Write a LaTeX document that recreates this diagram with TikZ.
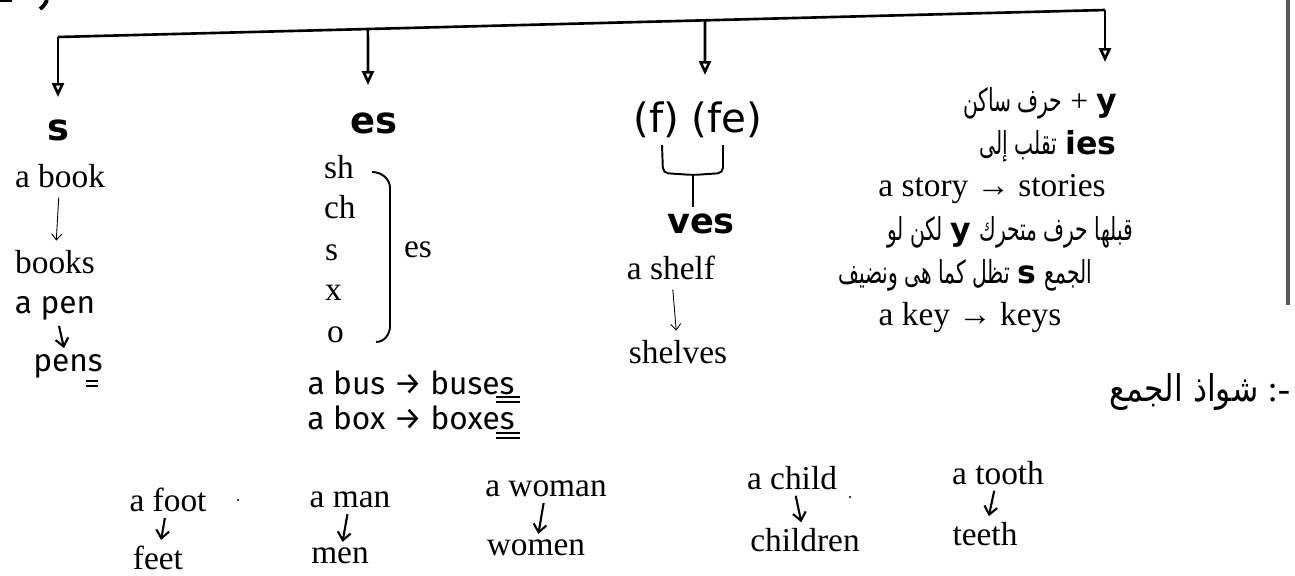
\documentclass[tikz,border=0pt]{standalone}
\usepackage{fontspec}
\setmainfont{Liberation Serif}
\newfontfamily\headfont{DejaVu Sans}
\newfontfamily\arabicfont[Script=Arabic, FakeStretch=0.64]{DejaVu Sans}
\newfontfamily\arabicwide[Script=Arabic, FakeStretch=0.85]{DejaVu Sans}
\newfontfamily\handfont{Fira Sans}
\TeXXeTstate=1
\usetikzlibrary{arrows.meta,positioning,calc}
\newcommand{\artxt}[1]{{\arabicfont\beginR #1\endR}}
\newcommand{\boldlat}[1]{{\headfont\bfseries\fontsize{18}{21}\selectfont #1}}
\tikzset{
  printed/.style={font=\fontsize{19}{22}\selectfont, inner sep=1pt},
  heading/.style={font=\headfont\bfseries\fontsize{21}{24}\selectfont, inner sep=1pt},
  headreg/.style={font=\headfont\fontsize{23}{26}\selectfont, inner sep=1pt},
  arline/.style={font=\fontsize{18}{21}\selectfont, inner sep=1pt},
  hand/.style={font=\handfont\fontsize{18}{21}\selectfont, inner sep=1pt},
  busarrow/.style={line width=1.5pt, -{Triangle[open, length=2.8mm, width=2.4mm]}},
  thinarrow/.style={line width=0.5pt, -{Straight Barb[length=1.2mm, width=2mm]}, shorten <=1.5mm, shorten >=1.5mm},
  handarrow/.style={line width=1.2pt, -{Straight Barb[length=1.6mm, width=2.6mm]}, shorten <=0.8mm, shorten >=0.8mm},
  bracket/.style={line width=1.1pt},
}
\begin{document}
\begin{tikzpicture}[x=0.02cm, y=-0.02cm]
\useasboundingbox (0,0) rectangle (1295,575);

% scan edge and cut-off fragment
\draw[line width=2.5pt, black!65] (1288,0) -- (1288,305);
\draw[line width=2.2pt] (40,9) to[bend right=15] (47,0);
\draw[line width=1.4pt] (0,1) -- (12,1);

% top bus
\coordinate (b0) at (58,37);
\coordinate (b3) at (1105,10);
\coordinate (b1) at ($(b0)!0.296!(b3)$);
\coordinate (b2) at ($(b0)!0.618!(b3)$);
\coordinate (t0) at (58,97);
\coordinate (t1) at (368,85);
\coordinate (t2) at (705,75);
\coordinate (t3) at (1105,62);
\draw[busarrow] (b0) -- (t0);
\draw[line width=1.5pt] (b0) -- (b3);
\draw[busarrow] (b1) -- (t1);
\draw[busarrow] (b2) -- (t2);
\draw[busarrow] (b3) -- (t3);

% column 1
\node[heading] (hs) at (58,130) {s};
\node[printed] (book) at (60,176) {a book};
\node[printed] (books) at (55,262) {books};
\draw[thinarrow] (book) -- (books);
\node[hand] (pen) at (55,308) {a pen};
\node[hand] (pens) at (68,366) {pens};
\draw[handarrow] (pen) -- (pens);
\draw[line width=1pt] (86,381) -- (98,381) (86,386) -- (98,386);

% column 2
\node[heading] (hes) at (374,123) {es};
\node[printed, anchor=base west] (sh) at (322,178) {sh};
\node[printed, anchor=base west] (ch) at (322,218) {ch};
\node[printed, anchor=base west] (ls) at (323,260) {s};
\node[printed, anchor=base west] (lx) at (323,300) {x};
\node[printed, anchor=base west] (lo) at (325,342) {o};
\draw[bracket] (372,172) to[out=0, in=90] (390,188) -- (390,326) to[out=-90, in=0] (376,342);
\node[printed, anchor=base west] (esl) at (402,257) {es};
\node[hand] (bus) at (411,383) {a bus → buses};
\node[hand] (box) at (411,418) {a box → boxes};
\draw[line width=1pt] (496,397) -- (520,397) (496,402) -- (520,402);
\draw[line width=1pt] (496,433) -- (520,433) (496,438) -- (520,438);

% column 3
\node[headreg] (hf) at (698,120) {(f) (fe)};
\draw[bracket, rounded corners=3pt] (662,145) -- (663,173) -- (693,175) -- (723,173) -- (723,145);
\draw[bracket] (693,175) -- (693,207);
\node[heading, font=\headfont\bfseries\fontsize{20}{24}\selectfont] (hv) at (701,224) {ves};
\node[printed] (shelf) at (671,268) {a shelf};
\node[printed] (shelves) at (678,352) {shelves};
\draw[thinarrow] (shelf) -- (shelves);

% column 4
\node[arline] (r1) at (1040,103) {\artxt{حرف ساكن} + \boldlat{y}};
\node[arline] (r2) at (1048,146) {\artxt{تقلب إلى} \boldlat{ies}};
\node[printed] (r3) at (992,189) {a story → stories};
\node[arline] (r4) at (1010,232) {\artxt{لكن لو} \boldlat{y} \artxt{قبلها حرف متحرك}};
\node[arline] (r5) at (965,275) {\artxt{تظل كما هى ونضيف} \boldlat{s} \artxt{الجمع}};
\node[printed] (r6) at (970,318) {a key → keys};

% irregular plurals
\node[font=\fontsize{21}{24}\selectfont, inner sep=1pt] (irr) at (1200,392) {{\arabicwide\beginR شواذ الجمع\endR} :-};
\node[printed] (foot) at (168,500) {a foot};
\node[printed] (feet) at (158,558) {feet};
\draw[handarrow] (foot) -- (feet);
\fill (238,500) circle (1.2);
\node[printed] (man) at (350,500) {a man};
\node[printed] (men) at (340,556) {men};
\draw[handarrow] (man) -- (men);
\node[printed] (woman) at (546,489) {a woman};
\node[printed] (women) at (536,548) {women};
\draw[handarrow] (woman) -- (women);
\node[printed] (child) at (792,478) {a child};
\fill (850,497) circle (1.2);
\node[printed] (children) at (805,540) {children};
\draw[handarrow] (child) -- (children);
\node[printed] (tooth) at (998,473) {a tooth};
\node[printed] (teeth) at (985,534) {teeth};
\draw[handarrow] (tooth) -- (teeth);
\end{tikzpicture}
\end{document}
